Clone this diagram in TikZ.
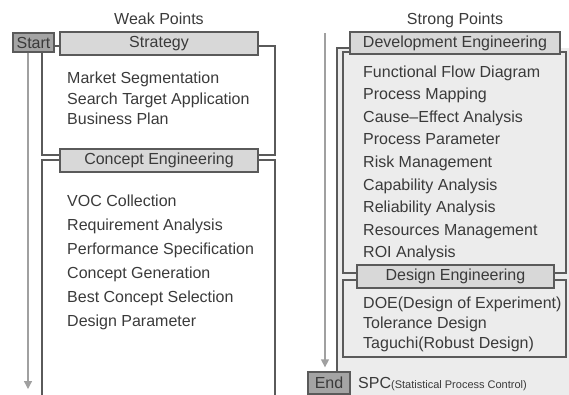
\documentclass[tikz,border=0pt]{standalone}
\usepackage{fontspec}
\setmainfont{Liberation Sans}
\usetikzlibrary{arrows.meta}
\definecolor{txtgrey}{HTML}{3A3A3A}
\definecolor{framegrey}{HTML}{5A5A5A}
\definecolor{bargrey}{HTML}{D8D8D8}
\definecolor{taggrey}{HTML}{A4A4A4}
\definecolor{panelgrey}{HTML}{ECECEC}
\definecolor{arrowgrey}{HTML}{A0A0A0}
\begin{document}
\begin{tikzpicture}[x=1pt,y=-1pt,
    bar/.style={draw=framegrey,line width=1.3pt,fill=bargrey,inner sep=0pt,
        text=txtgrey,font=\fontsize{16}{18}\selectfont},
    tag/.style={draw=framegrey,line width=1.3pt,fill=taggrey,inner sep=0pt,
        text=txtgrey,font=\fontsize{16}{18}\selectfont},
    item/.style={anchor=base west,inner sep=0pt,text=txtgrey,
        font=\fontsize{16}{18}\selectfont},
    frame/.style={draw=framegrey,line width=1.3pt},
    flow/.style={draw=arrowgrey,line width=1.3pt,-{Triangle[width=8pt,length=8pt]}}]
    \useasboundingbox (0,0) rectangle (569,394);

    % left side
    \node (weak) at (159,19) [text=txtgrey,font=\fontsize{16}{18}\selectfont] {Weak Points};

    \draw[frame] (42,46) rectangle (275,155);
    \draw[frame] (42,400) -- (42,160) -- (275,160) -- (275,400);

    \node[bar, minimum width=198pt, minimum height=23pt] (strat) at (159,43.5) {Strategy};
    \node[bar, minimum width=198pt, minimum height=23pt] (concept) at (159,160.5) {Concept Engineering};
    \node[tag, minimum width=41pt, minimum height=19pt] (start) at (33.5,42.5) {Start};

    \coordinate (arrL) at (28,389);
    \draw[flow] (start.south -| arrL) -- (arrL);

    \node[item] (s1) at (67,83) {Market Segmentation};
    \node[item] (s2) at (67,104) {Search Target Application};
    \node[item] (s3) at (67,124) {Business Plan};

    \node[item] (c1) at (67,206) {VOC Collection};
    \node[item] (c2) at (67,230) {Requirement Analysis};
    \node[item] (c3) at (67,254) {Performance Specification};
    \node[item] (c4) at (67,278) {Concept Generation};
    \node[item] (c5) at (67,302) {Best Concept Selection};
    \node[item] (c6) at (67,326) {Design Parameter};

    % right side
    \node (strong) at (455,20) [text=txtgrey,font=\fontsize{16}{18}\selectfont] {Strong Points};

    \fill[panelgrey] (337,48) rectangle (580,400);
    \draw[frame] (337,400) -- (337,48) -- (352,48);
    \filldraw[frame, fill=panelgrey] (343,52) rectangle (566,273);
    \filldraw[frame, fill=panelgrey] (343,280) rectangle (566,357);

    \node[bar, minimum width=210pt, minimum height=22pt] (dev) at (455,43) {Development Engineering};
    \node[bar, minimum width=197pt, minimum height=23pt] (design) at (455.5,276.5) {Design Engineering};
    \node[tag, minimum width=42pt, minimum height=22pt] (endb) at (329,383) {End};

    \coordinate (arrR) at (325,33);
    \draw[flow, shorten >=4pt] (arrR) -- (endb.north -| arrR);

    \node[item] (d1) at (363,77) {Functional Flow Diagram};
    \node[item] (d2) at (363,99.6) {Process Mapping};
    \node[item] (d3) at (363,122.2) {Cause--Effect Analysis};
    \node[item] (d4) at (363,144.8) {Process Parameter};
    \node[item] (d5) at (363,167.4) {Risk Management};
    \node[item] (d6) at (363,190) {Capability Analysis};
    \node[item] (d7) at (363,212.6) {Reliability Analysis};
    \node[item] (d8) at (363,235.2) {Resources Management};
    \node[item] (d9) at (363,257.8) {ROI Analysis};

    \node[item] (g1) at (363,308) {DOE(Design of Experiment)};
    \node[item] (g2) at (363,328) {Tolerance Design};
    \node[item] (g3) at (363,348) {Taguchi(Robust Design)};

    \node[item] (spc) at (358,388) {SPC{\fontsize{11}{13}\selectfont(Statistical Process Control)}};
\end{tikzpicture}
\end{document}
